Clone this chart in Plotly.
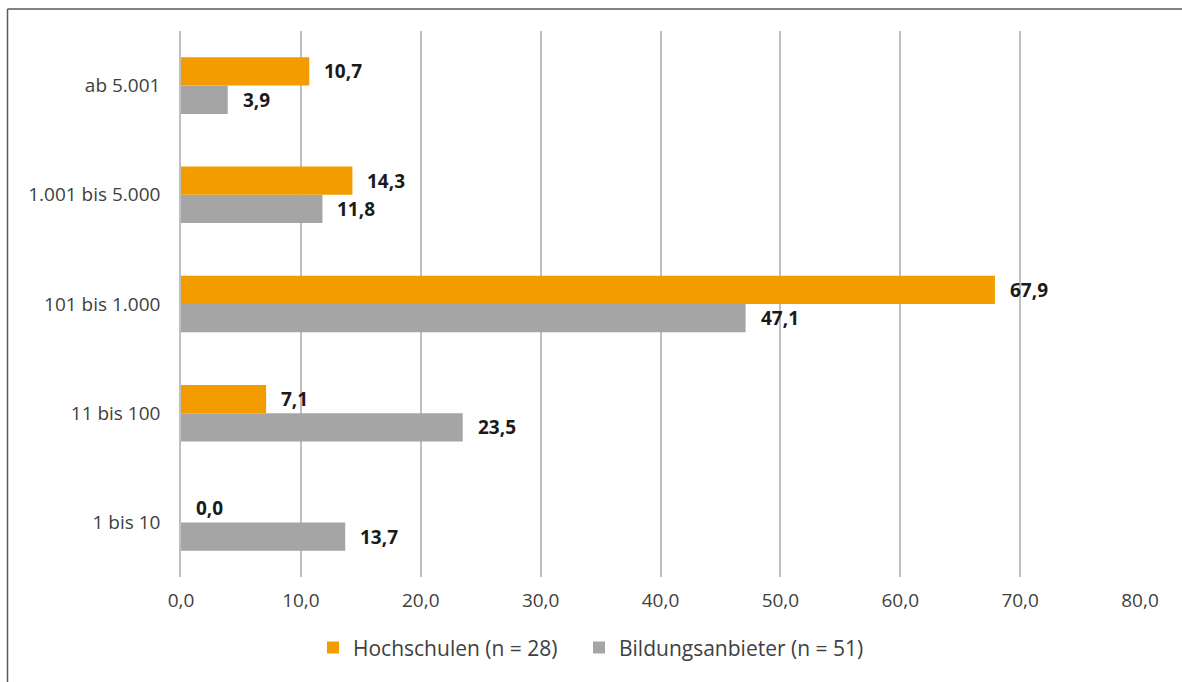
import plotly.graph_objects as go

categories = ["1 bis 10", "11 bis 100", "101 bis 1.000", "1.001 bis 5.000", "ab 5.001"]
hochschulen = [0.0, 7.1, 67.9, 14.3, 10.7]
bildungsanbieter = [13.7, 23.5, 47.1, 11.8, 3.9]
name_hs = "Hochschulen (n = 28)"
name_ba = "Bildungsanbieter (n = 51)"
x_ticks = [0, 10, 20, 30, 40, 50, 60, 70, 80]

ORANGE = "#F39C00"
GREY = "#A5A5A5"
GRID = "#BFBFBF"
FONT = "Open Sans"

def fmt(v):
    return f"{v:.1f}".replace(".", ",")

fig = go.Figure()
fig.add_trace(go.Bar(y=categories, x=bildungsanbieter, orientation="h", name=name_ba,
                     marker=dict(color=GREY, line=dict(width=0)), legend="legend2"))
fig.add_trace(go.Bar(y=categories, x=hochschulen, orientation="h", name=name_hs,
                     marker=dict(color=ORANGE, line=dict(width=0)), legend="legend"))

band = 546 / len(categories)
bargap = 0.482
half = band * (1 - bargap) / 4

for c, v in zip(categories, hochschulen):
    fig.add_annotation(x=v, y=c, text=f"<b>{fmt(v)}</b>", showarrow=False,
                       xanchor="left", yanchor="middle", xshift=13, yshift=half,
                       font=dict(family=FONT, size=19, color="#1a1a1a"))
for c, v in zip(categories, bildungsanbieter):
    fig.add_annotation(x=v, y=c, text=f"<b>{fmt(v)}</b>", showarrow=False,
                       xanchor="left", yanchor="middle", xshift=13, yshift=-half,
                       font=dict(family=FONT, size=19, color="#1a1a1a"))

# frame (top and left border)
fx = -173.5 / 959
fy = (577 - 9) / 546
fig.add_shape(type="line", xref="paper", yref="paper",
              x0=fx, x1=1.06, y0=fy, y1=fy,
              line=dict(color="#595959", width=1.5))
fig.add_shape(type="line", xref="paper", yref="paper",
              x0=fx, x1=fx, y0=fy, y1=-0.25,
              line=dict(color="#595959", width=1.5))

legend_common = dict(orientation="h", xref="container", xanchor="left",
                     yref="container", y=0.05, yanchor="middle",
                     font=dict(family=FONT, size=21, color="#404040"),
                     itemwidth=30, bgcolor="rgba(0,0,0,0)")

fig.update_layout(
    width=1182, height=682,
    margin=dict(l=181, r=42, t=31, b=105),
    paper_bgcolor="white", plot_bgcolor="white",
    barmode="group", bargap=bargap, bargroupgap=0,
    separators=",.",
    font=dict(family=FONT, size=19, color="#404040"),
    showlegend=True,
    legend=dict(x=313 / 1182, **legend_common),
    legend2=dict(x=579 / 1182, **legend_common),
    xaxis=dict(range=[0, 80], tickvals=x_ticks, tickformat=".1f",
               showgrid=True, gridcolor=GRID, gridwidth=1.5,
               zeroline=False, showline=False, ticks="",
               ticklabelstandoff=10, fixedrange=True),
    yaxis=dict(categoryorder="array", categoryarray=categories,
               showgrid=False, zeroline=False, showline=True,
               linecolor=GRID, linewidth=1.5, ticks="",
               ticklabelstandoff=15, fixedrange=True),
)
fig.update_shapes(layer="above")

fig.write_html("out.html", config={"displayModeBar": False},
               post_script="document.body.style.margin='0';document.body.style.overflow='hidden';")
